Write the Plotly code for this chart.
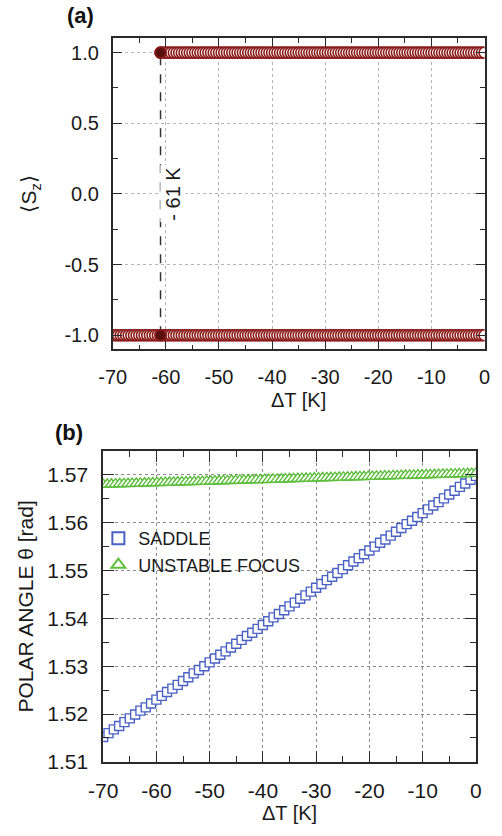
import numpy as np
import plotly.graph_objects as go

# ---------------- data ----------------
# panel (a): <S_z> vs Delta T
dt_up = np.arange(-61.0, 0.01, 0.5)          # sweep where Sz = +1 branch exists
sz_up = [1.0] * len(dt_up)
dt_dn = np.arange(-70.0, 0.01, 0.5)          # sweep for Sz = -1 branch
sz_dn = [-1.0] * len(dt_dn)
dt_switch = [-61.0, -61.0]
sz_switch = [1.0, -1.0]

# panel (b): polar angle vs Delta T
dt_saddle = list(range(-70, 1))
theta_saddle = [
    1.5152, 1.5160, 1.5168, 1.5175, 1.5183, 1.5191, 1.5199, 1.5207, 1.5214, 1.5222,
    1.5230, 1.5238, 1.5246, 1.5253, 1.5261, 1.5269, 1.5277, 1.5285, 1.5292, 1.5300,
    1.5308, 1.5316, 1.5324, 1.5331, 1.5339, 1.5347, 1.5355, 1.5363, 1.5370, 1.5378,
    1.5386, 1.5394, 1.5402, 1.5409, 1.5417, 1.5425, 1.5433, 1.5441, 1.5448, 1.5456,
    1.5464, 1.5472, 1.5480, 1.5487, 1.5495, 1.5503, 1.5511, 1.5519, 1.5526, 1.5534,
    1.5542, 1.5550, 1.5558, 1.5565, 1.5573, 1.5581, 1.5589, 1.5597, 1.5604, 1.5612,
    1.5620, 1.5628, 1.5636, 1.5643, 1.5651, 1.5659, 1.5667, 1.5675, 1.5682, 1.5690,
    1.5698,
]
dt_focus = np.linspace(-70.0, 0.0, 91)
theta_focus = [
    1.56800, 1.56803, 1.56805, 1.56808, 1.56810, 1.56813, 1.56815, 1.56818, 1.56820, 1.56823,
    1.56826, 1.56828, 1.56831, 1.56833, 1.56836, 1.56838, 1.56841, 1.56843, 1.56846, 1.56849,
    1.56851, 1.56854, 1.56856, 1.56859, 1.56861, 1.56864, 1.56866, 1.56869, 1.56872, 1.56874,
    1.56877, 1.56879, 1.56882, 1.56884, 1.56887, 1.56889, 1.56892, 1.56895, 1.56897, 1.56900,
    1.56902, 1.56905, 1.56907, 1.56910, 1.56912, 1.56915, 1.56918, 1.56920, 1.56923, 1.56925,
    1.56928, 1.56930, 1.56933, 1.56935, 1.56938, 1.56941, 1.56943, 1.56946, 1.56948, 1.56951,
    1.56953, 1.56956, 1.56958, 1.56961, 1.56964, 1.56966, 1.56969, 1.56971, 1.56974, 1.56976,
    1.56979, 1.56981, 1.56984, 1.56987, 1.56989, 1.56992, 1.56994, 1.56997, 1.56999, 1.57002,
    1.57004, 1.57007, 1.57010, 1.57012, 1.57015, 1.57017, 1.57020, 1.57022, 1.57025, 1.57027,
    1.57030,
]

x_ticks = [-70, -60, -50, -40, -30, -20, -10, 0]
x_ticktext = ["-70", "-60", "-50", "-40", "-30", "-20", "-10", "0"]
ya_ticks = [-1.0, -0.5, 0.0, 0.5, 1.0]
ya_ticktext = ["-1.0", "-0.5", "0.0", "0.5", "1.0"]
yb_ticks = [1.51, 1.52, 1.53, 1.54, 1.55, 1.56, 1.57]
yb_ticktext = ["1.51", "1.52", "1.53", "1.54", "1.55", "1.56", "1.57"]

# ---------------- figure ----------------
W, H = 502, 836
FONT = "Liberation Sans, Arial, sans-serif"
RED = "#8B1A1A"
BLUE = "#4A62C4"
GREEN = "#5DBE3C"
AX = "#2a2a2a"
TXT = "#1a1a1a"

fig = go.Figure()

circ = dict(symbol="circle", size=11, color="white", line=dict(color=RED, width=1.6))
fig.add_trace(go.Scatter(x=dt_dn, y=sz_dn, mode="markers", marker=circ,
                         xaxis="x", yaxis="y", showlegend=False))
fig.add_trace(go.Scatter(x=dt_up, y=sz_up, mode="markers", marker=circ,
                         xaxis="x", yaxis="y", showlegend=False))
fig.add_trace(go.Scatter(x=dt_switch, y=sz_switch, mode="markers",
                         marker=dict(symbol="circle", size=11, color="#5a0f0f",
                                     line=dict(color=RED, width=1.6)),
                         xaxis="x", yaxis="y", showlegend=False))

# panel (b)
fig.add_trace(go.Scatter(x=dt_focus, y=theta_focus, mode="lines",
                         line=dict(color=GREEN, width=1.6),
                         xaxis="x2", yaxis="y2", showlegend=False))
fig.add_trace(go.Scatter(x=dt_saddle, y=theta_saddle, mode="markers", name="SADDLE",
                         marker=dict(symbol="square", size=9, color="white",
                                     line=dict(color=BLUE, width=1.4)),
                         xaxis="x2", yaxis="y2"))
fig.add_trace(go.Scatter(x=dt_focus, y=theta_focus, mode="markers", name="UNSTABLE FOCUS",
                         marker=dict(symbol="triangle-up", size=11, color="white",
                                     line=dict(color=GREEN, width=1.4)),
                         xaxis="x2", yaxis="y2"))


def axis_common(tickfont, gridcolor, gridwidth, ticklen, minor):
    return dict(
        showline=True, linecolor=AX, linewidth=1.6, mirror="ticks",
        ticks="inside", ticklen=ticklen, tickwidth=1.4, tickcolor=AX,
        showgrid=True, gridcolor=gridcolor, gridwidth=gridwidth, griddash="dot",
        zeroline=False, tickfont=dict(family=FONT, size=tickfont, color=TXT),
        minor=minor,
    )


def minor_ticks(length, tick0, dtick):
    return dict(ticks="inside", ticklen=length, tickwidth=1.4, tickcolor=AX,
                tick0=tick0, dtick=dtick, showgrid=False)


xa = axis_common(20, "#b5b5b5", 1, 9, minor_ticks(5, 0, 5))
xa.update(domain=[102 / W, 490 / W], range=[-70, 0], tickmode="array",
          tickvals=x_ticks, ticktext=x_ticktext, anchor="y", ticklabelstandoff=9,
          title=dict(text="ΔT [K]", font=dict(family=FONT, size=20, color=TXT), standoff=6))
ya = axis_common(20, "#b5b5b5", 1, 9, minor_ticks(5, 0.25, 0.5))
ya.update(domain=[1 - 354 / H, 1 - 39 / H], range=[-1.1, 1.1], tickmode="array",
          tickvals=ya_ticks, ticktext=ya_ticktext, anchor="x", ticklabelstandoff=8,
          title=dict(text="⟨S<sub>z</sub>⟩", font=dict(family=FONT, size=21, color=TXT),
                     standoff=22))

xb = axis_common(21, "#8a8a8a", 1.3, 11, minor_ticks(6, 0, 5))
xb.update(domain=[92 / W, 481 / W], range=[-70, 0], tickmode="array",
          tickvals=x_ticks, ticktext=x_ticktext, anchor="y2", ticklabelstandoff=9,
          title=dict(text="ΔT [K]", font=dict(family=FONT, size=20, color=TXT), standoff=3))
yb = axis_common(21, "#8a8a8a", 1.3, 11, minor_ticks(6, 1.515, 0.01))
yb.update(domain=[1 - 772 / H, 1 - 457 / H], range=[1.51, 1.575], tickmode="array",
          tickvals=yb_ticks, ticktext=yb_ticktext, anchor="x2", ticklabelstandoff=9,
          title=dict(text="POLAR ANGLE θ [rad]", font=dict(family=FONT, size=21, color=TXT),
                     standoff=8))

fig.update_layout(
    width=W, height=H, margin=dict(l=0, r=0, t=0, b=0),
    paper_bgcolor="white", plot_bgcolor="white",
    xaxis=xa, yaxis=ya, xaxis2=xb, yaxis2=yb,
    showlegend=True,
    legend=dict(x=87 / W, y=1 - 527 / H, xanchor="left", yanchor="top",
                bgcolor="rgba(0,0,0,0)", borderwidth=0,
                font=dict(family=FONT, size=18, color=TXT),
                itemsizing="constant", tracegroupgap=0),
    shapes=[dict(type="line", xref="x", yref="y", x0=-61, x1=-61, y0=-1, y1=1,
                 line=dict(color="#333333", width=1.5, dash="dash"), layer="below")],
    annotations=[
        dict(text="- 61 K", x=-58.7, y=0.0, xref="x", yref="y", showarrow=False,
             textangle=-90, bgcolor="white",
             font=dict(family=FONT, size=20, color=TXT)),
        dict(text="<b>(a)</b>", x=52 / W, y=1 - 16 / H, xref="paper", yref="paper",
             xanchor="left", yanchor="middle", showarrow=False,
             font=dict(family=FONT, size=22, color="#111111")),
        dict(text="<b>(b)</b>", x=40 / W, y=1 - 438 / H, xref="paper", yref="paper",
             xanchor="left", yanchor="middle", showarrow=False,
             font=dict(family=FONT, size=22, color="#111111")),
    ],
)

fig.write_html("out.html")
